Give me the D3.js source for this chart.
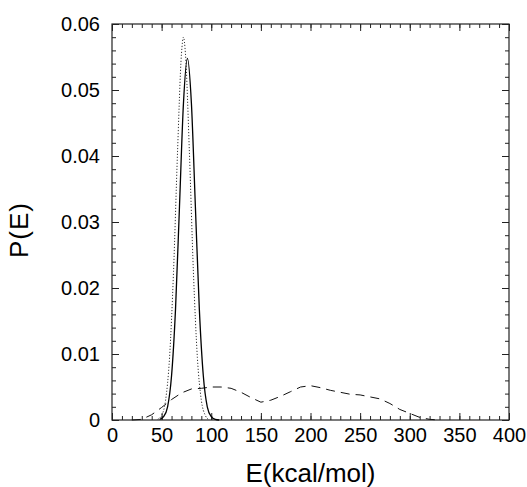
<!DOCTYPE html>
<html>
<head>
<meta charset="utf-8">
<script src="https://cdn.jsdelivr.net/npm/d3@7"></script>
<style>
  body { margin: 0; background: #fff; }
  text { font-family: "Liberation Sans", Arial, Helvetica, sans-serif; fill: #000; }
  .axis path { display: none; }
  .axis line { stroke: #222; stroke-width: 1; }
</style>
</head>
<body>
<svg id="chart"></svg>
<script>
// values
var solidE = [48, 52, 56, 60, 64, 68, 72, 76, 80, 84, 88, 92, 96, 100, 104, 108];
var solidP = [0.0001, 0.0005, 0.002, 0.0067, 0.0168, 0.0324, 0.048, 0.0548, 0.048, 0.0324, 0.0168, 0.0067, 0.002, 0.0005, 0.0001, 0];

var dottedE = [46, 50, 54, 58, 62, 66, 70, 72, 74, 78, 82, 86, 90, 94, 98];
var dottedP = [0.0001, 0.0007, 0.003, 0.0095, 0.0225, 0.0405, 0.0555, 0.058, 0.0555, 0.0405, 0.0225, 0.0095, 0.003, 0.0007, 0];

var dashedE = [20, 30, 40, 50, 60, 70, 80, 90, 100, 110, 120, 130, 140, 150, 160, 170, 180, 190, 200, 210, 220, 230, 240, 250, 260, 270, 280, 290, 300, 310, 320, 330];
var dashedP = [0, 0.0001, 0.0008, 0.0019, 0.0031, 0.0041, 0.0047, 0.0048, 0.005, 0.005, 0.0048, 0.0042, 0.0034, 0.0027, 0.003, 0.0036, 0.0043, 0.005, 0.0052, 0.0049, 0.0045, 0.0042, 0.0039, 0.0038, 0.0035, 0.0032, 0.0025, 0.0016, 0.001, 0.0004, 0.0001, 0];

var xTicks = [0, 50, 100, 150, 200, 250, 300, 350, 400];
var yTicks = [0, 0.01, 0.02, 0.03, 0.04, 0.05, 0.06];

var width = 527, height = 487;
var padding = { top: 24, bottom: 67, left: 112, right: 18 };
var graphWidth = width - padding.left - padding.right;
var graphHeight = height - padding.top - padding.bottom;

var xscale = d3.scaleLinear().domain([0, 400]).range([0, graphWidth]);
var yscale = d3.scaleLinear().domain([0, 0.06]).range([graphHeight, 0]);

var svg = d3.select("#chart")
  .attr("width", width)
  .attr("height", height)
  .append("g")
  .attr("transform", "translate(" + padding.left + "," + padding.top + ")");

var fmtY = function(d){ return d === 0 ? "0" : d3.format(".2f")(d); };
var xMinor = d3.range(0, 401, 10);
var yMinor = d3.range(0, 0.0601, 0.002);

// minor ticks, all four sides
svg.append("g").attr("class", "axis").attr("transform", "translate(0," + graphHeight + ")")
  .call(d3.axisBottom(xscale).tickValues(xMinor).tickSize(-4).tickFormat(""));
svg.append("g").attr("class", "axis")
  .call(d3.axisTop(xscale).tickValues(xMinor).tickSize(-4).tickFormat(""));
svg.append("g").attr("class", "axis")
  .call(d3.axisLeft(yscale).tickValues(yMinor).tickSize(-4).tickFormat(""));
svg.append("g").attr("class", "axis").attr("transform", "translate(" + graphWidth + ",0)")
  .call(d3.axisRight(yscale).tickValues(yMinor).tickSize(-4).tickFormat(""));

// major ticks + labels
svg.append("g").attr("class", "axis x").attr("transform", "translate(0," + graphHeight + ")")
  .call(d3.axisBottom(xscale).tickValues(xTicks).tickSize(-7).tickPadding(8).tickFormat(d3.format("d")))
  .selectAll("text").style("font-size", "20px");
svg.append("g").attr("class", "axis")
  .call(d3.axisTop(xscale).tickValues(xTicks).tickSize(-7).tickFormat(""));
svg.append("g").attr("class", "axis y")
  .call(d3.axisLeft(yscale).tickValues(yTicks).tickSize(-7).tickPadding(12).tickFormat(fmtY))
  .selectAll("text").style("font-size", "20px");
svg.append("g").attr("class", "axis").attr("transform", "translate(" + graphWidth + ",0)")
  .call(d3.axisRight(yscale).tickValues(yTicks).tickSize(-7).tickFormat(""));

// frame
svg.append("rect")
  .attr("width", graphWidth)
  .attr("height", graphHeight)
  .attr("fill", "none")
  .attr("stroke", "#222")
  .attr("stroke-width", 1.2);

// curves
var line = d3.line()
  .x(function(d){ return xscale(d[0]); })
  .y(function(d){ return yscale(d[1]); });

svg.append("path")
  .datum(d3.zip(dashedE, dashedP))
  .attr("d", line)
  .attr("fill", "none")
  .attr("stroke", "#111")
  .attr("stroke-width", 1)
  .attr("stroke-dasharray", "9,6");

svg.append("path")
  .datum(d3.zip(dottedE, dottedP))
  .attr("d", line.curve(d3.curveMonotoneX))
  .attr("fill", "none")
  .attr("stroke", "#333")
  .attr("stroke-width", 1)
  .attr("stroke-dasharray", "1.2,1.8");

svg.append("path")
  .datum(d3.zip(solidE, solidP))
  .attr("d", line.curve(d3.curveMonotoneX))
  .attr("fill", "none")
  .attr("stroke", "#000")
  .attr("stroke-width", 1.3);

// axis titles
svg.append("text")
  .attr("x", graphWidth / 2)
  .attr("y", graphHeight + 62)
  .attr("text-anchor", "middle")
  .style("font-size", "26px")
  .text("E(kcal/mol)");

svg.append("text")
  .attr("transform", "translate(" + (-84) + "," + (graphHeight / 2 + 8) + ") rotate(-90)")
  .attr("text-anchor", "middle")
  .style("font-size", "26px")
  .style("letter-spacing", "1px")
  .text("P(E)");
</script>
</body>
</html>
